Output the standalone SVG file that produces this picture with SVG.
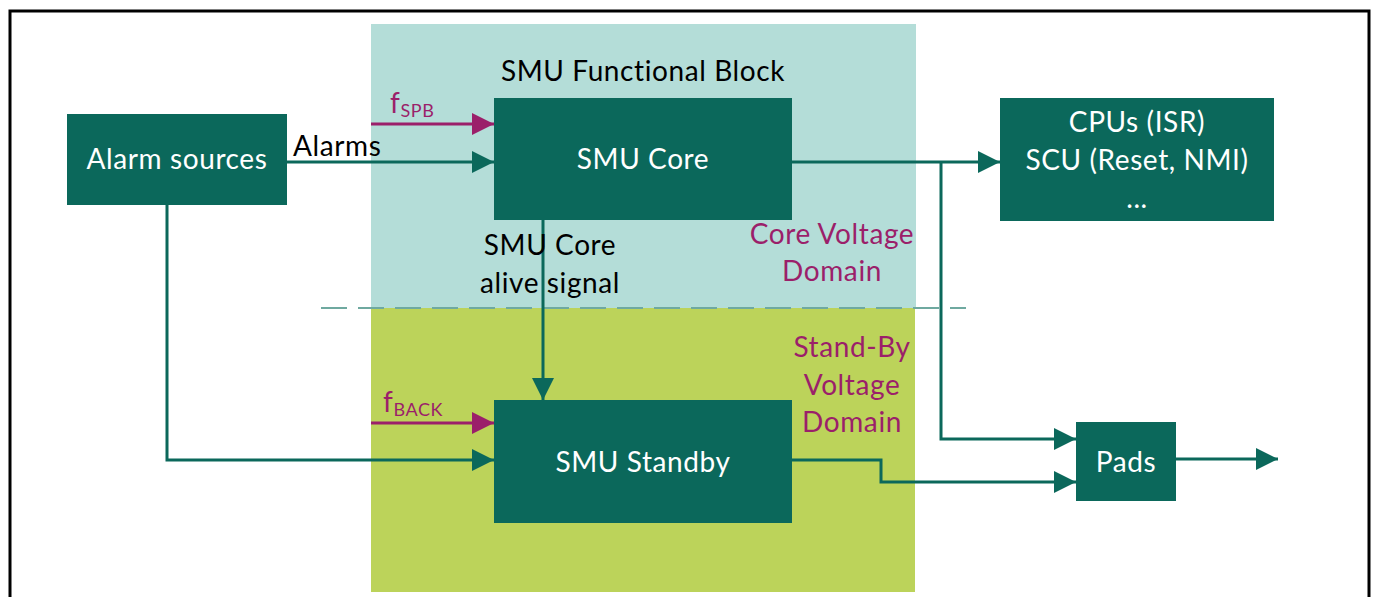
<svg xmlns="http://www.w3.org/2000/svg" width="1376" height="597" viewBox="0 0 1376 597">
<defs>
<style>
.node{fill:#0b685b}
.t{font-family:Lato,"Liberation Sans",sans-serif;font-size:28px;letter-spacing:0.6px}
.w{fill:#ffffff;text-anchor:middle}
.k{fill:#000000}
.m{fill:#9b1f6a}
.c{fill:none;stroke:#0b685b;stroke-width:3}
.cm{fill:none;stroke:#9b1f6a;stroke-width:3}
</style>
<marker id="ah" viewBox="0 0 22 22" refX="22" refY="11" markerWidth="22" markerHeight="22" markerUnits="userSpaceOnUse" orient="auto"><path d="M0,0 L22,11 L0,22 Z" fill="#0b685b"/></marker>
<marker id="am" viewBox="0 0 22 22" refX="22" refY="11" markerWidth="22" markerHeight="22" markerUnits="userSpaceOnUse" orient="auto"><path d="M0,0 L22,11 L0,22 Z" fill="#9b1f6a"/></marker>
</defs>
<rect x="0" y="0" width="1376" height="597" fill="#ffffff"/>
<path d="M10,597 L10,11 L1369,11 L1369,597" fill="none" stroke="#000" stroke-width="3"/>
<g id="domains">
<rect x="371" y="24" width="545" height="284" fill="#b4ddd8"/>
<rect x="371" y="308" width="544" height="284" fill="#bcd35a"/>
<line x1="321" y1="308" x2="966" y2="308" stroke="#6fa9a0" stroke-width="2" stroke-dasharray="26,11"/>
<text class="t k" x="643" y="81" text-anchor="middle">SMU Functional Block</text>
<text class="t m" x="832" y="244" text-anchor="middle">Core Voltage</text>
<text class="t m" x="832" y="281" text-anchor="middle">Domain</text>
<text class="t m" x="852" y="357" text-anchor="middle">Stand-By</text>
<text class="t m" x="852" y="395" text-anchor="middle">Voltage</text>
<text class="t m" x="852" y="432" text-anchor="middle">Domain</text>
</g>
<g id="connectors">
<line class="cm" x1="371" y1="124" x2="494" y2="124" marker-end="url(#am)"/>
<line class="c" x1="287" y1="162" x2="494" y2="162" marker-end="url(#ah)"/>
<polyline class="c" points="167,205 167,460 494,460" marker-end="url(#ah)"/>
<line class="cm" x1="371" y1="423" x2="494" y2="423" marker-end="url(#am)"/>
<line class="c" x1="543" y1="220" x2="543" y2="400" marker-end="url(#ah)"/>
<line class="c" x1="792" y1="162" x2="1000" y2="162" marker-end="url(#ah)"/>
<polyline class="c" points="941,162 941,439 1076,439" marker-end="url(#ah)"/>
<polyline class="c" points="792,460 881,460 881,482 1076,482" marker-end="url(#ah)"/>
<line class="c" x1="1176" y1="459" x2="1278" y2="459" marker-end="url(#ah)"/>
<text class="t k" x="293" y="156">Alarms</text>
<text class="t m" x="390" y="113">f<tspan font-size="18" dy="4">SPB</tspan></text>
<text class="t m" x="383" y="412">f<tspan font-size="18" dy="4">BACK</tspan></text>
<text class="t k" x="550" y="255" text-anchor="middle">SMU Core</text>
<text class="t k" x="550" y="293" text-anchor="middle">alive signal</text>
</g>
<g id="alarm-sources">
<rect class="node" x="67" y="114" width="220" height="91"/>
<text class="t w" x="177" y="169">Alarm sources</text>
</g>
<g id="smu-core">
<rect class="node" x="494" y="98" width="298" height="122"/>
<text class="t w" x="643" y="169">SMU Core</text>
</g>
<g id="smu-standby">
<rect class="node" x="494" y="400" width="298" height="123"/>
<text class="t w" x="643" y="472">SMU Standby</text>
</g>
<g id="cpus">
<rect class="node" x="1000" y="98" width="274" height="123"/>
<text class="t w" x="1137" y="132">CPUs (ISR)</text>
<text class="t w" x="1137" y="170">SCU (Reset, NMI)</text>
<text class="t w" x="1137" y="208">...</text>
</g>
<g id="pads">
<rect class="node" x="1076" y="422" width="100" height="79"/>
<text class="t w" x="1126" y="472">Pads</text>
</g>
</svg>
